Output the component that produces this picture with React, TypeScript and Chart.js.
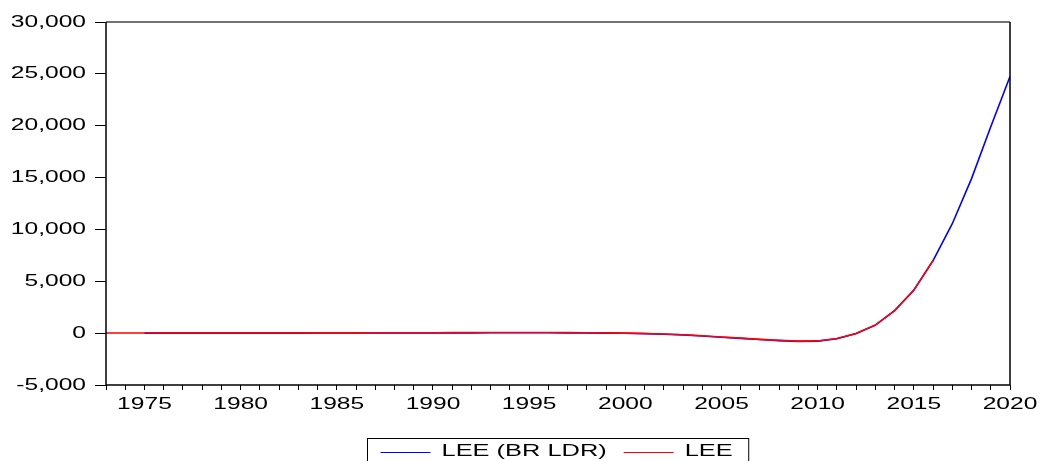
import React, { useEffect, useRef } from "react";
import { Chart, registerables } from "chart.js";

Chart.register(...registerables);

const years = [
  "1973", "1974", "1975", "1976", "1977", "1978", "1979", "1980", "1981", "1982",
  "1983", "1984", "1985", "1986", "1987", "1988", "1989", "1990", "1991", "1992",
  "1993", "1994", "1995", "1996", "1997", "1998", "1999", "2000", "2001", "2002",
  "2003", "2004", "2005", "2006", "2007", "2008", "2009", "2010", "2011", "2012",
  "2013", "2014", "2015", "2016", "2017", "2018", "2019", "2020",
];

// LEE (BR LDR): 1975-2020
const leeBrLdr: (number | null)[] = [
  null, null, 0, 5, 5, 5, 5, 5, 5, 5,
  5, 10, 10, 10, 15, 20, 20, 25, 30, 30,
  35, 35, 35, 35, 30, 20, 5, -15, -50, -100,
  -170, -270, -390, -500, -620, -720, -790, -770, -540, -40,
  770, 2160, 4140, 6990, 10550, 14900, 19900, 24750,
];

// LEE: 1973-2016
const lee: (number | null)[] = [
  10, 15, 20, 25, 25, 25, 25, 25, 25, 25,
  25, 30, 30, 30, 35, 40, 40, 45, 50, 50,
  55, 55, 55, 55, 50, 40, 25, 5, -30, -80,
  -150, -250, -370, -480, -600, -700, -770, -750, -520, -30,
  780, 2170, 4150, 7000, null, null, null, null,
];

const yMin = -5000;
const yMax = 30000;
const yStep = 5000;
const xLabelEvery = 5;

const seriesNames = ["LEE (BR LDR)", "LEE"];
const seriesColors = ["#0000FF", "#FF0000"];

const FONT = '16.5px "Liberation Sans", Arial, sans-serif';
const STRETCH = 1.49;
const LEGEND_STRETCH = 1.54;

function stretchedText(ctx: CanvasRenderingContext2D, text: string, x: number, y: number, align: CanvasTextAlign, stretch = STRETCH) {
  ctx.save();
  ctx.translate(x, y);
  ctx.scale(stretch, 1);
  ctx.font = FONT;
  ctx.fillStyle = "#000";
  ctx.textAlign = align;
  ctx.textBaseline = "middle";
  ctx.fillText(text, 0, 0);
  ctx.restore();
}

const decorPlugin = {
  id: "decor",
  afterDraw(chart: any) {
    const ctx: CanvasRenderingContext2D = chart.ctx;
    const { left, right, top, bottom } = chart.chartArea;
    const xScale = chart.scales.x;
    const yScale = chart.scales.y;

    // frame
    ctx.save();
    ctx.lineWidth = 1.5;
    ctx.strokeStyle = "#444";
    ctx.beginPath();
    ctx.moveTo(left, top);
    ctx.lineTo(right, top);
    ctx.stroke();
    ctx.strokeStyle = "#000";
    ctx.beginPath();
    ctx.moveTo(right, top);
    ctx.lineTo(right, bottom);
    ctx.lineTo(left, bottom);
    ctx.lineTo(left, top);
    ctx.stroke();
    ctx.restore();

    // y labels
    yScale.ticks.forEach((t: any) => {
      const y = yScale.getPixelForValue(t.value);
      stretchedText(ctx, Number(t.value).toLocaleString("en-US"), left - 20, y, "right");
    });

    // x labels
    years.forEach((yr, i) => {
      if (Number(yr) % xLabelEvery !== 0) return;
      const x = xScale.getPixelForValue(i);
      stretchedText(ctx, yr, x, bottom + 19.5, "center");
    });

    // legend
    ctx.save();
    ctx.font = FONT;
    const w0 = ctx.measureText(seriesNames[0]).width * LEGEND_STRETCH;
    const w1 = ctx.measureText(seriesNames[1]).width * LEGEND_STRETCH;
    ctx.restore();
    const sample = 50;
    const padL = 13, padR = 16, gapText = 11, gapItem = 17;
    const total = padL + sample + gapText + w0 + gapItem + sample + gapText + w1 + padR;
    const cx = (left + right) / 2;
    const bx = Math.round(cx - total / 2) + 0.5;
    const by = 438.5;
    ctx.save();
    ctx.strokeStyle = "#000";
    ctx.lineWidth = 1;
    ctx.strokeRect(bx, by, total, 40);
    ctx.restore();
    const ly = 452.5;
    let x = bx + padL;
    const items = [
      { name: seriesNames[0], color: seriesColors[0], w: w0 },
      { name: seriesNames[1], color: seriesColors[1], w: w1 },
    ];
    items.forEach((it, idx) => {
      ctx.save();
      ctx.strokeStyle = it.color;
      ctx.lineWidth = 1.2;
      ctx.beginPath();
      ctx.moveTo(x, ly);
      ctx.lineTo(x + sample, ly);
      ctx.stroke();
      ctx.restore();
      x += sample + gapText;
      stretchedText(ctx, it.name, x, 451.5, "left", LEGEND_STRETCH);
      x += it.w + (idx === 0 ? gapItem : 0);
    });
  },
};

export default function App() {
  const canvasRef = useRef<HTMLCanvasElement | null>(null);

  useEffect(() => {
    if (!canvasRef.current) return;
    const chart = new Chart(canvasRef.current, {
      type: "line",
      data: {
        labels: years,
        datasets: [
          {
            label: seriesNames[0],
            data: leeBrLdr,
            borderColor: seriesColors[0],
            backgroundColor: seriesColors[0],
            borderWidth: 1.6,
            pointRadius: 0,
            tension: 0,
            spanGaps: false,
            order: 1,
          },
          {
            label: seriesNames[1],
            data: lee,
            borderColor: seriesColors[1],
            backgroundColor: seriesColors[1],
            borderWidth: 1.6,
            pointRadius: 0,
            tension: 0,
            spanGaps: false,
            order: 0,
          },
        ],
      },
      options: {
        responsive: false,
        animation: false,
        events: [],
        layout: { padding: { left: 0, top: 22, right: 33, bottom: 0 } },
        plugins: {
          legend: { display: false },
          tooltip: { enabled: false },
          title: { display: false },
        },
        scales: {
          x: {
            type: "category",
            offset: false,
            border: { display: false },
            grid: {
              offset: false,
              drawOnChartArea: false,
              drawTicks: true,
              tickLength: 5,
              color: "#000",
              lineWidth: 1,
            },
            ticks: { display: false, autoSkip: false },
            afterFit: (s: any) => {
              s.height = 76;
            },
          },
          y: {
            type: "linear",
            min: yMin,
            max: yMax,
            border: { display: false },
            grid: {
              drawOnChartArea: false,
              drawTicks: true,
              tickLength: 11,
              color: "#000",
              lineWidth: 1,
            },
            ticks: { display: false, stepSize: yStep },
            afterFit: (s: any) => {
              s.width = 106;
            },
          },
        },
      },
      plugins: [decorPlugin],
    });
    return () => chart.destroy();
  }, []);

  return (
    <div style={{ position: "absolute", left: 0, top: 0, width: 1043, height: 461, background: "#fff" }}>
      <canvas ref={canvasRef} width={1043} height={461} style={{ display: "block" }} />
    </div>
  );
}
